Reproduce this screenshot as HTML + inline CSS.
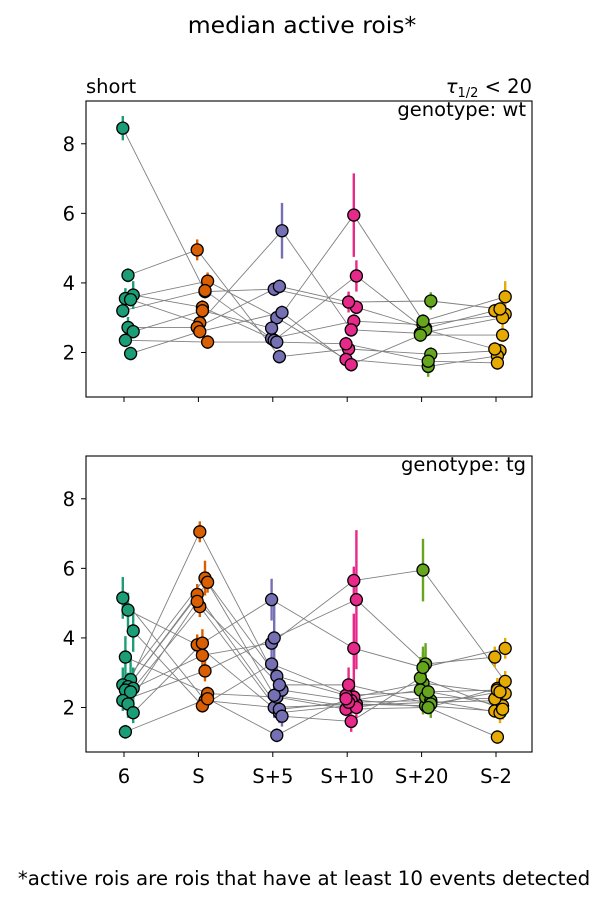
<!DOCTYPE html>
<html><head><meta charset="utf-8"><style>
body{margin:0;background:#fff;}
svg{display:block;font-family:"DejaVu Sans","Liberation Sans",sans-serif;}
</style></head><body>
<svg id="fig" width="609" height="903">
<text x="302" y="33" font-size="23.5" text-anchor="middle">median active rois*</text>
<text x="86" y="93" font-size="19.5">short</text>
<text x="532" y="93" font-size="19.5" text-anchor="end"><tspan font-style="italic">τ</tspan><tspan font-size="13" dy="4">1/2</tspan><tspan dy="-4"> &lt; 20</tspan></text>
<text x="526" y="116" font-size="19.5" text-anchor="end">genotype: wt</text>
<text x="526" y="471" font-size="19.5" text-anchor="end">genotype: tg</text>
<text x="304" y="885" font-size="19.8" text-anchor="middle">*active rois are rois that have at least 10 events detected</text>
</svg>
<script>
const categories=["6","S","S+5","S+10","S+20","S-2"];
const yTicks=[2,4,6,8];
const colors=["#1b9e77","#d95f02","#7570b3","#e7298a","#66a61e","#e6ab02"];
const wt6=[8.45,4.22,3.65,3.55,3.52,3.2,2.72,2.6,2.35,1.97];
const wtS=[3.75,4.95,3.3,4.05,2.85,3.78,2.72,3.2,2.3,2.6];
const wtS5=[3.82,1.88,2.4,3.0,5.5,2.35,3.9,2.7,2.3,3.15];
const wtS10=[3.3,2.1,2.9,1.8,2.65,4.2,3.45,5.95,2.25,1.65];
const wtS20=[2.7,1.95,2.8,1.6,2.55,2.65,3.48,2.9,1.75,2.5];
const wtSm2=[3.2,2.05,3.1,1.9,3.0,2.1,3.25,3.6,1.7,2.5];
const wtErr6=[0.35,0.2,0.4,0.3,0.2,0.2,0.3,0.2,0.2,0.2];
const wtErrS=[0.2,0.3,0.2,0.25,0.2,0.2,0.2,0.3,0.2,0.2];
const wtErrS5=[0.2,0.2,0.2,0.2,0.8,0.2,0.2,0.3,0.2,0.2];
const wtErrS10=[0.2,0.2,0.2,0.2,0.2,0.45,0.3,1.2,0.2,0.2];
const wtErrS20=[0.2,0.2,0.2,0.3,0.2,0.2,0.25,0.2,0.2,0.2];
const wtErrSm2=[0.2,0.2,0.2,0.2,0.3,0.2,0.2,0.45,0.2,0.2];
const tg6=[5.15,4.8,4.2,3.45,2.8,2.65,2.6,2.55,2.5,2.45,2.2,2.1,1.85,1.3];
const tgS=[2.2,3.8,2.05,2.4,7.05,5.72,5.25,3.5,5.6,4.9,3.05,5.05,3.85,2.25];
const tgS5=[2.0,1.85,3.25,2.3,2.5,2.35,1.95,3.85,2.9,1.75,4.0,2.65,5.1,1.2];
const tgS10=[2.1,2.05,2.3,1.95,2.2,2.0,2.15,5.65,2.35,1.6,5.1,2.65,3.7,2.25];
const tgS20=[2.05,2.15,2.7,2.0,2.5,2.3,2.2,5.95,2.45,2.85,3.25,2.1,3.15,2.0];
const tgSm2=[1.9,2.2,2.4,2.55,2.05,2.25,1.85,2.75,2.5,1.95,3.45,2.45,3.7,1.15];
const tgErr6=[0.6,0.5,0.6,0.6,0.7,0.5,0.4,0.6,0.3,0.3,0.3,0.4,0.3,0.2];
const tgErrS=[0.2,0.3,0.2,0.2,0.3,0.5,0.3,0.3,0.3,0.3,0.3,0.3,0.4,0.2];
const tgErrS5=[0.3,0.3,0.3,0.2,0.3,0.3,0.3,0.3,0.3,0.3,1.1,0.3,0.6,0.2];
const tgErrS10=[0.2,0.2,0.3,0.2,0.2,0.3,0.3,0.4,0.3,0.3,2.0,0.5,1.0,0.3];
const tgErrS20=[0.2,0.2,0.9,0.2,0.3,0.3,0.3,0.9,0.3,0.6,0.6,0.4,0.6,0.2];
const tgErrSm2=[0.2,0.2,0.3,0.3,0.3,0.3,0.3,0.3,0.3,0.3,0.3,0.3,0.3,0.2];

const NS="http://www.w3.org/2000/svg";
const svg=document.getElementById("fig");
function mk(tag,attrs,parent){const e=document.createElementNS(NS,tag);for(const k in attrs)e.setAttribute(k,attrs[k]);(parent||svg).appendChild(e);return e;}
const X0=86,X1=532,VMIN=0.72,VMAX=9.23;
function xPos(c){return 124+c*74.4;}
function drawPanel(top,bot,vals,errs,showLabels,panelName){
  const g=mk("g",{});
  
  
  const yPos=v=>bot-(v-VMIN)/(VMAX-VMIN)*(bot-top);
  yTicks.forEach(t=>{
    const y=yPos(t);
    const tk=mk("line",{x1:X0-5,x2:X0,y1:y,y2:y,stroke:"#000","stroke-width":1},g);
    
    
    const tl=mk("text",{x:X0-11,y:y+7,"font-size":19.5,"text-anchor":"end"},g);
    tl.textContent=t;
    
    
  });
  categories.forEach((c,i)=>{
    const x=xPos(i);
    const tk=mk("line",{x1:x,x2:x,y1:bot,y2:bot+5,stroke:"#000","stroke-width":1},g);
    
    
    if(showLabels){
      const tl=mk("text",{x:x,y:bot+31,"font-size":19.5,"text-anchor":"middle"},g);
      tl.textContent=c;
      
      
    }
  });
  const n=vals[0].length;
  const jit=(a,c)=>4+(((a*7+c*3)%5)-2)*2.6;
  for(let a=0;a<n;a++){
    const pts=vals.map((arr,c)=>(xPos(c)+jit(a,c))+","+yPos(arr[a])).join(" ");
    const pl=mk("polyline",{points:pts,fill:"none",stroke:"#808080","stroke-width":0.9},g);
    
    
  }
  vals.forEach((arr,c)=>{arr.forEach((v,a)=>{
    const x=xPos(c)+jit(a,c);
    const eb=mk("line",{x1:x,x2:x,y1:yPos(v-errs[c][a]),y2:yPos(v+errs[c][a]),stroke:colors[c],"stroke-width":2.4},g);
    
    
  });});
  vals.forEach((arr,c)=>{arr.forEach((v,a)=>{
    const pt=mk("circle",{cx:xPos(c)+jit(a,c),cy:yPos(v),r:6,fill:colors[c],stroke:"#000","stroke-width":1.3},g);
    
    
  });});
  const fr=mk("rect",{x:X0,y:top,width:X1-X0,height:bot-top,fill:"none",stroke:"#000","stroke-width":1.1},g);
  
  
}
drawPanel(101,397,[wt6,wtS,wtS5,wtS10,wtS20,wtSm2],[wtErr6,wtErrS,wtErrS5,wtErrS10,wtErrS20,wtErrSm2],false,"wt-panel");
drawPanel(456,752,[tg6,tgS,tgS5,tgS10,tgS20,tgSm2],[tgErr6,tgErrS,tgErrS5,tgErrS10,tgErrS20,tgErrSm2],true,"tg-panel");
</script>
</body></html>
